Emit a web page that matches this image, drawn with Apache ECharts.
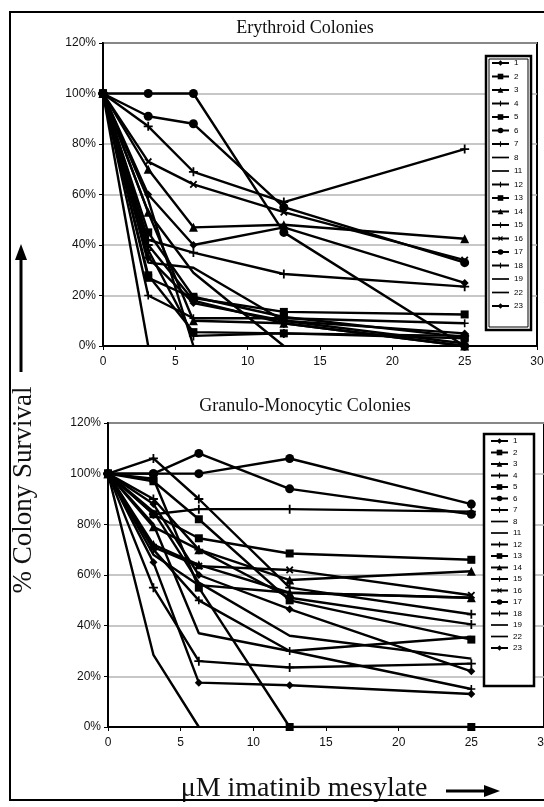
<!DOCTYPE html>
<html>
<head>
<meta charset="utf-8">
<script src="https://cdn.jsdelivr.net/npm/echarts@6/dist/echarts.min.js"></script>
<style>
html,body{margin:0;padding:0;background:#fff;}
#chart{width:544px;height:807px;}
</style>
</head>
<body>
<div id="chart"></div>
<script>
// doses (uM) and patient series
var doses = [0, 3.125, 6.25, 12.5, 25];
var names = ['1','2','3','4','5','6','7','8','11','12','13','14','15','16','17','18','19','22','23'];
var yTicks = [0, 20, 40, 60, 80, 100, 120];

// erythroid colonies (% survival)
var ery = {
    '1':  [100, 35, 17, 10, 5],
    '2':  [100, 27, 19, 13.5, 12.5],
    '3':  [100, 70, 47, 48, 42.5],
    '4':  [100, 40, 18, 9, 0],
    '5':  [100, 45, 19.5, 11.5, 3.5],
    '6':  [100, 91, 88, 55, 33],
    '7':  [100, 87, 69, 57, 78],
    '8':  [100, 53, 29, 0, null],
    '11': [100, 0, null, null, null],
    '12': [100, 20, 11, 11, 9],
    '13': [100, 28, 5.5, 5, 3],
    '14': [100, 53, 10, 9, 0],
    '15': [100, 38, 4, 5, 4],
    '16': [100, 73, 64, 53, 34],
    '17': [100, 100, 100, 45, 0],
    '18': [100, 42, 37, 28.5, 23.5],
    '19': [100, 58, 0, null, null],
    '22': [100, 33, 31, 10, 1],
    '23': [100, 60, 40, 47, 25]
};

// granulo-monocytic colonies (% survival)
var gm = {
    '1':  [100, 88, 60, 46.5, 22],
    '2':  [100, 98, 55, 0, 0],
    '3':  [100, 79, 70, 58, 61.5],
    '4':  [100, 55, 26, 23.5, 25],
    '5':  [100, 84, 74.5, 68.5, 66],
    '6':  [100, 100, 108, 94, 84],
    '7':  [100, 106, 90, 55, 44.5],
    '8':  [100, 68, 56, 53, 51],
    '11': [100, 28.5, 0, null, null],
    '12': [100, 70, 50, 30, 15],
    '13': [100, 97, 82, 50, 34.5],
    '14': [100, 72, 64, 53, 51],
    '15': [100, 90, 70, 51, 40.5],
    '16': [100, 71, 63.5, 62, 52],
    '17': [100, 100, 100, 106, 88],
    '18': [100, 84, 86, 86, 85],
    '19': [100, 85, 57, 36, 27],
    '22': [100, 80, 37, 30, 35.5],
    '23': [100, 65, 17.5, 16.5, 13]
};

var plusPath = 'path://M4,0H6V4H10V6H6V10H4V6H0V4H4Z';
var linePath = 'path://M0,0H20V2H0Z';
var markers = {
    '1': ['diamond', 8], '2': ['rect', 8], '3': ['triangle', 9], '4': [plusPath, 9],
    '5': ['rect', 8], '6': ['circle', 9], '7': [plusPath, 9], '8': ['none', 0],
    '11': ['none', 0], '12': [plusPath, 8], '13': ['rect', 8], '14': ['triangle', 9],
    '15': [plusPath, 9], '16': ['x', 9], '17': ['circle', 9], '18': [plusPath, 9],
    '19': ['none', 0], '22': ['none', 0], '23': ['diamond', 8]
};

function makeSeries(src, idx){
    var out = [];
    names.forEach(function(n){
        var pts = [];
        src[n].forEach(function(v, i){
            if(v !== null) pts.push([doses[i], v]);
        });
        var m = markers[n];
        out.push({
            name: n,
            type: 'line',
            xAxisIndex: idx,
            yAxisIndex: idx,
            data: pts,
            symbol: m[0] === 'x' ? plusPath : m[0],
            symbolRotate: m[0] === 'x' ? 45 : 0,
            symbolSize: m[1],
            showSymbol: m[0] !== 'none',
            lineStyle: { color: '#000', width: 2.4 },
            itemStyle: { color: '#000' },
            animation: false
        });
    });
    return out;
}

function xAx(idx){
    return {
        type: 'value', gridIndex: idx, min: 0, max: 30, interval: 5,
        axisLine: { lineStyle: { color: '#000', width: 2 } },
        axisTick: { show: true, length: 4, lineStyle: { color: '#000' } },
        axisLabel: { color: '#111', fontSize: 12, fontFamily: 'Liberation Sans', margin: 10 },
        splitLine: { show: false }
    };
}
function yAx(idx){
    return {
        type: 'value', gridIndex: idx, min: 0, max: 120, interval: 20,
        axisLine: { show: true, lineStyle: { color: '#000', width: 2 } },
        axisTick: { show: true, length: 4, lineStyle: { color: '#000' } },
        axisLabel: { color: '#111', fontSize: 12, fontFamily: 'Liberation Sans', margin: 7,
            formatter: function(v){ return yTicks.indexOf(v) >= 0 ? v + '%' : ''; } },
        splitLine: { show: true, lineStyle: { color: '#b4b4b4', width: 1.5 } }
    };
}
function legendFor(left, top, gap){
    var data = names.map(function(n){
        return markers[n][0] === 'none' ? { name: n, icon: linePath } : { name: n };
    });
    return {
        orient: 'vertical', left: left, top: top, data: data,
        itemWidth: 17, itemHeight: 7, itemGap: gap, padding: 0,
        textStyle: { fontSize: 8, color: '#000', fontFamily: 'Liberation Sans', lineHeight: 8 },
        selectedMode: false, z: 10
    };
}

var myChart = echarts.init(document.getElementById('chart'));
var option = {
    backgroundColor: '#fff',
    animation: false,
    grid: [
        { left: 103, top: 43, width: 434, height: 303, show: true, borderColor: '#000', borderWidth: 2, outerBoundsMode: 'none', containLabel: false },
        { left: 108, top: 423, width: 436, height: 304, show: true, borderColor: '#000', borderWidth: 2, outerBoundsMode: 'none', containLabel: false }
    ],
    xAxis: [xAx(0), xAx(1)],
    yAxis: [yAx(0), yAx(1)],
    legend: [legendFor(491, 59, 5.5), legendFor(490, 437, 3.5)],
    graphic: [
        // outer frame
        { type: 'rect', shape: { x: 10, y: 12, width: 545, height: 788 }, style: { fill: 'none', stroke: '#000', lineWidth: 2 }, z: 100 },
        // legend boxes
        { type: 'rect', shape: { x: 486, y: 56, width: 45, height: 274 }, style: { fill: '#fff', stroke: '#000', lineWidth: 2.5 }, z: 5 },
        { type: 'rect', shape: { x: 489, y: 59, width: 39, height: 268 }, style: { fill: 'none', stroke: '#000', lineWidth: 1 }, z: 6 },
        { type: 'rect', shape: { x: 484, y: 434, width: 50, height: 252 }, style: { fill: '#fff', stroke: '#000', lineWidth: 2.5 }, z: 5 },
        // titles
        { type: 'text', style: { text: 'Erythroid Colonies', x: 305, y: 28, textAlign: 'center', textVerticalAlign: 'middle', font: '18px "Liberation Serif"', fill: '#111' } },
        { type: 'text', style: { text: 'Granulo-Monocytic Colonies', x: 305, y: 406, textAlign: 'center', textVerticalAlign: 'middle', font: '18px "Liberation Serif"', fill: '#111' } },
        // y name + arrow
        { type: 'text', rotation: Math.PI / 2, x: 24, y: 490, style: { text: '% Colony Survival', x: 0, y: 0, textAlign: 'center', textVerticalAlign: 'middle', font: '27px "Liberation Serif"', fill: '#111' } },
        { type: 'line', shape: { x1: 21, y1: 372, x2: 21, y2: 256 }, style: { stroke: '#000', lineWidth: 3 } },
        { type: 'polygon', shape: { points: [[21, 244], [15, 260], [27, 260]] }, style: { fill: '#000' } },
        // x name + arrow
        { type: 'text', style: { text: '\u03bcM imatinib mesylate', x: 304, y: 789, textAlign: 'center', textVerticalAlign: 'middle', font: '28px "Liberation Serif"', fill: '#111' } },
        { type: 'line', shape: { x1: 446, y1: 791, x2: 488, y2: 791 }, style: { stroke: '#000', lineWidth: 3 } },
        { type: 'polygon', shape: { points: [[500, 791], [484, 785], [484, 797]] }, style: { fill: '#000' } }
    ],
    series: makeSeries(ery, 0).concat(makeSeries(gm, 1))
};
myChart.setOption(option);
</script>
</body>
</html>
